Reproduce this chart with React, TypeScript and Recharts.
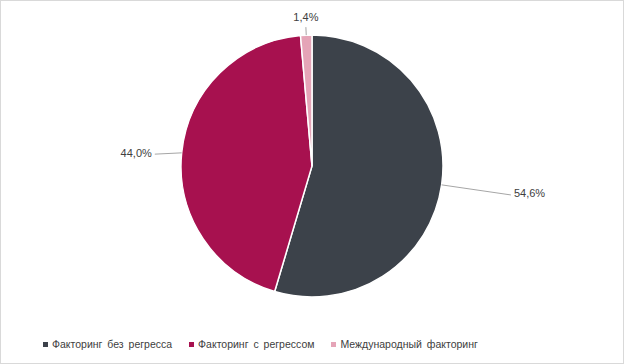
import { PieChart, Pie, Cell, Legend } from 'recharts';

const categories = ['Факторинг без регресса', 'Факторинг с регрессом', 'Международный факторинг'];
const shares = [54.6, 44.0, 1.4];
const colors = ['#3c424a', '#a7114f', '#e5a4b7'];

// leader line length past the rim, per slice
const leader = [70, 27, 8];

const data = categories.map((name, i) => ({ name, value: shares[i] }));

const RAD = Math.PI / 180;

const renderLabel = (props: any) => {
  const { cx, cy, midAngle, outerRadius, value, index } = props;
  const cos = Math.cos(-midAngle * RAD);
  const sin = Math.sin(-midAngle * RAD);
  const sx = cx + outerRadius * cos;
  const sy = cy + outerRadius * sin;
  const len = leader[index] ?? 20;
  let ex = sx + len * cos;
  let ey = sy + len * sin;
  if (Math.abs(cos) > 0.3) ey += cos > 0 ? 0 : 4;
  const text = value.toFixed(1).replace('.', ',') + '%';
  let tx = ex;
  let ty = ey;
  let anchor: 'start' | 'end' | 'middle' = 'middle';
  if (cos > 0.3) {
    anchor = 'start';
    tx = ex + 3;
    ty = ey - 2;
  } else if (cos < -0.3) {
    anchor = 'end';
    tx = ex - 3;
    ty = ey - 1;
  } else {
    ty = ey - 10;
  }
  return (
    <g key={`lbl-${index}`}>
      <path d={`M${sx},${sy}L${ex},${ey}`} stroke="#a6a6a6" strokeWidth={1} fill="none" />
      <text
        x={tx}
        y={ty}
        textAnchor={anchor}
        dominantBaseline="central"
        fill="#404040"
        fontSize={11}
        fontFamily="'Liberation Sans', Arial, sans-serif"
      >
        {text}
      </text>
    </g>
  );
};

const renderLegend = () => (
  <div
    style={{
      display: 'flex',
      alignItems: 'center',
      fontFamily: "'Liberation Sans', Arial, sans-serif",
      fontSize: 10.5,
      color: '#404040',
      wordSpacing: 2,
      whiteSpace: 'nowrap',
    }}
  >
    {categories.map((name, i) => (
      <div key={name} style={{ display: 'flex', alignItems: 'center', marginRight: 17 }}>
        <span style={{ width: 5, height: 5, background: colors[i], marginRight: 4, display: 'inline-block' }} />
        <span>{name}</span>
      </div>
    ))}
  </div>
);

export default function App() {
  return (
    <div
      style={{
        position: 'absolute',
        left: 0,
        top: 0,
        width: 624,
        height: 364,
        boxSizing: 'border-box',
        border: '1px solid #d9d9d9',
        background: '#fff',
      }}
    >
      <PieChart width={622} height={362} margin={{ top: 0, right: 0, bottom: 0, left: 0 }}>
        <Pie
          data={data}
          dataKey="value"
          nameKey="name"
          cx={311}
          cy={165}
          outerRadius={131}
          startAngle={90}
          endAngle={-270}
          stroke="#ffffff"
          strokeWidth={1.5}
          label={renderLabel}
          labelLine={false}
          isAnimationActive={false}
        >
          {data.map((d, i) => (
            <Cell key={d.name} fill={colors[i]} />
          ))}
        </Pie>
        <Legend
          content={renderLegend}
          wrapperStyle={{ position: 'absolute', left: 42, top: 337, bottom: 'auto', width: 'auto' }}
        />
      </PieChart>
    </div>
  );
}
